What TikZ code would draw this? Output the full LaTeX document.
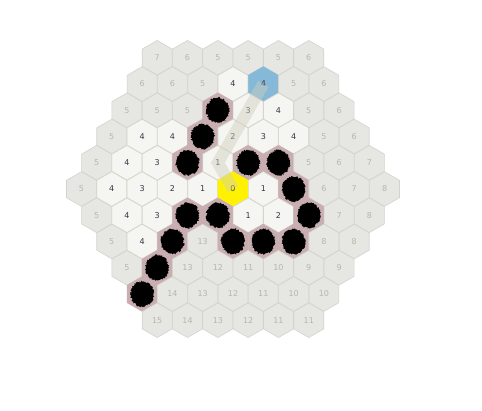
\documentclass[tikz,border=0pt]{standalone}
\usepackage{fontspec}
\setmainfont{DejaVu Sans}
\usetikzlibrary{shapes.geometric,decorations.pathmorphing}
\definecolor{hexgray}{HTML}{E6E6E2}
\definecolor{hexline}{HTML}{D4D4CD}
\definecolor{hexwhite}{HTML}{F5F5F2}
\definecolor{hexwall}{HTML}{C9AEB1}
\definecolor{hexstart}{HTML}{FFF200}
\definecolor{hexgoal}{HTML}{86B9D8}
\definecolor{numlight}{HTML}{B7B7A8}
\definecolor{numdark}{HTML}{363646}
\definecolor{trailcol}{HTML}{CFCFBC}
\tikzset{
  hexcell/.style={regular polygon,regular polygon sides=6,shape border rotate=30,
    minimum size=34.6pt,inner sep=0pt,draw=hexline,line width=0.6pt,
    font=\fontsize{8}{9}\selectfont},
  kind-g/.style={fill=hexgray,text=numlight},
  kind-w/.style={fill=hexwhite,text=numdark},
  kind-y/.style={fill=hexstart,draw=hexstart,text=numdark},
  kind-b/.style={fill=hexgoal,draw=hexgoal,text=numdark},
  kind-o/.style={fill=hexwall,draw=hexwall},
  blob/.style={fill=black,decorate,decoration={random steps,segment length=0.7pt,amplitude=1pt}},
  trail/.style={line width=12pt,draw=trailcol,opacity=0.45,line join=miter}
}
\begin{document}
\begin{tikzpicture}[x=1pt,y=-1pt]
  \pgfmathsetseed{7}
  \path[fill=white,use as bounding box] (0,0) rectangle (482,410);
  % grid, one row at a time
  \foreach \r/\cells in {
    0/{g/7,g/6,g/5,g/5,g/5,g/6},
    1/{g/6,g/6,g/5,w/4,b/4,g/5,g/6},
    2/{g/5,g/5,g/5,o/{},w/3,w/4,g/5,g/6},
    3/{g/5,w/4,w/4,o/{},w/2,w/3,w/4,g/5,g/6},
    4/{g/5,w/4,w/3,o/{},w/1,o/{},o/{},g/5,g/6,g/7},
    5/{g/5,w/4,w/3,w/2,w/1,y/0,w/1,o/{},g/6,g/7,g/8},
    6/{g/5,w/4,w/3,o/{},o/{},w/1,w/2,o/{},g/7,g/8},
    7/{g/5,w/4,o/{},g/13,o/{},o/{},o/{},g/8,g/8},
    8/{g/5,o/{},g/13,g/12,g/11,g/10,g/9,g/9},
    9/{o/{},g/14,g/13,g/12,g/11,g/10,g/10},
    10/{g/15,g/14,g/13,g/12,g/11,g/11}} {
    \pgfmathsetmacro\len{11-abs(\r-5)}
    \foreach \k/\n [count=\i] in \cells {
      \pgfmathsetmacro\cx{233+(\i-(\len+1)/2)*30.31}
      \pgfmathsetmacro\cy{57.75+\r*26.25}
      \node[hexcell,kind-\k] (c-\r-\i) at (\cx,\cy) {\n};
    }
  }
  % walls
  \foreach \c in {c-2-4,c-3-4,c-4-4,c-4-6,c-4-7,c-5-8,c-6-4,c-6-5,c-6-8,
                  c-7-3,c-7-5,c-7-6,c-7-7,c-8-2,c-9-1}
    \fill[blob] (\c.center) ellipse (11.5pt and 12.5pt);
  % shortest path from start to goal
  \draw[trail] (c-5-6.center) -- (c-4-5.center) -- (c-3-5.center) -- (c-2-5.center) -- (c-1-5.center);
\end{tikzpicture}
\end{document}
